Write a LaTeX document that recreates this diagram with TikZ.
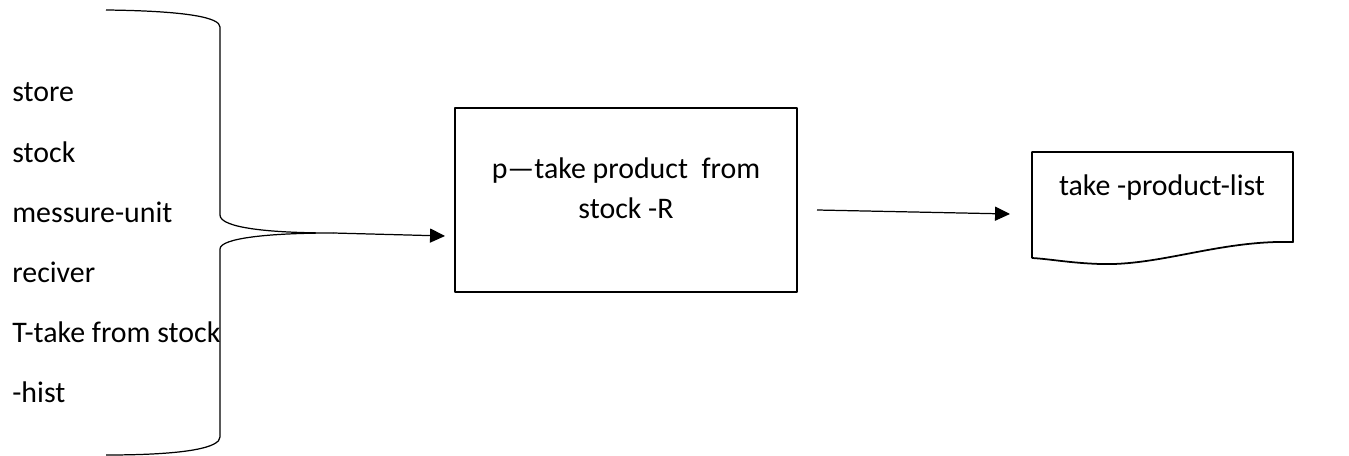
\documentclass[tikz,border=0pt]{standalone}
\usepackage{fontspec}
\setmainfont{Carlito}
\usetikzlibrary{arrows.meta}

\begin{document}
\begin{tikzpicture}[
		x=0.02cm, y=-0.02cm,
		font=\fontsize{17}{23}\selectfont,
		line join=round,
		>={Triangle[length=8.5pt,width=8pt]},
		item/.style={anchor=west, inner sep=0pt},
		procbox/.style={draw, line width=1.2pt, minimum width=6.84cm, minimum height=3.68cm, inner sep=0pt}
		]
		
		\useasboundingbox (0,0) rectangle (1349,456);
		
		% brace
		\draw[line width=0.7pt] 
		(106,10) .. controls (190,11) and (220,18) .. (220,27) -- (220,215) 
		.. controls (220,228) and (270,233) .. (333,233) coordinate(tip) 
		.. controls (270,233) and (220,238) .. (220,249) -- (220,437) 
		.. controls (220,447) and (190,455) .. (106,455);
		
		\node[item] (store) at (12,92) {store};
		\node[item] (stock) at (12,152) {stock};
		\node[item] (unit) at (12,212) {messure-unit};
		\node[item] (reciver) at (12,272) {reciver};
		\node[item] (take) at (12,332) {T-take from stock};
		\node[item] (hist) at (12,392) {-hist};
		
		\node[procbox] (proc) at (626,200) {};
		\node[align=center] (proctext) at (626,188) {p---take product\ \ from\\stock -R};
		
		% document
		\draw[line width=1pt] 
		(1032,258) -- (1032,152) coordinate(docnw) -- (1293,152) -- (1293,242) 
		.. controls (1220,240) and (1160,266) .. (1100,264) 
		.. controls (1070,263) and (1050,259) .. (1032,258);
		\node (doc) at (1162,188) {take -product-list};
		
		\coordinate (in) at (445,236);
		\coordinate (out) at (817,210);
		\coordinate (docin) at (1010,214);
		
		\draw[->, line width=0.7pt] (tip) -- (in);
		\draw[->, line width=0.7pt] (out) -- (docin);
		
	\end{tikzpicture}
\end{document}
